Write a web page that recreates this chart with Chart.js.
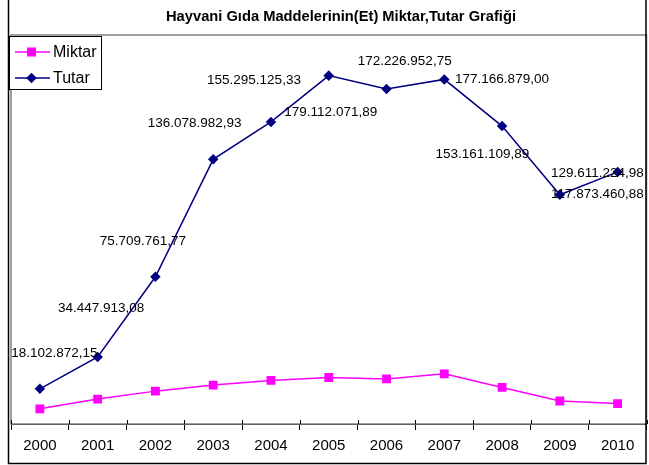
<!DOCTYPE html>
<html>
<head>
<meta charset="utf-8">
<script src="https://cdn.jsdelivr.net/npm/chart.js@4/dist/chart.umd.min.js"></script>
<style>
html,body{margin:0;padding:0;background:#fff;}
#wrap{width:649px;height:465px;position:relative;}
</style>
</head>
<body>
<div id="wrap"><canvas id="c" width="649" height="465"></canvas></div>
<script>
// ---- data ----
const chartTitle = 'Hayvani Gıda Maddelerinin(Et) Miktar,Tutar Grafiği';
const years = ['2000','2001','2002','2003','2004','2005','2006','2007','2008','2009','2010'];
const miktar = [7800000, 12800000, 16900000, 20000000, 22400000, 23900000, 23200000, 25800000, 18800000, 11800000, 10500000];
const tutar = [18102872.15, 34447913.08, 75709761.77, 136078982.93, 155295125.33, 179112071.89, 172226952.75, 177166879.00, 153161109.89, 117873460.88, 129611224.98];
// label placement relative to each Tutar point (dx, dy in px)
const tutarLabelOffsets = [[14.5,-36],[3.5,-49],[-12.6,-35.6],[-18.6,-36],[-17,-42],[2,36.6],[18.2,-27.3],[57.7,0],[-19.7,28.3],[37.5,0],[-20.2,1.7]];

function trFormat(v){
  const fixed = v.toFixed(2);
  const [intPart, dec] = fixed.split('.');
  const withDots = intPart.replace(/\B(?=(\d{3})+(?!\d))/g, '.');
  return withDots + ',' + dec;
}

const decor = {
  id: 'decor',
  beforeDraw(chart){
    const ctx = chart.ctx;
    ctx.save();
    ctx.fillStyle = '#fff';
    ctx.fillRect(0,0,chart.width,chart.height);
    ctx.restore();
  },
  afterDatasetsDraw(chart){
    const ctx = chart.ctx;
    const meta = chart.getDatasetMeta(1);
    ctx.save();
    ctx.font = '13.5px Arial, "Liberation Sans", sans-serif';
    ctx.fillStyle = '#000';
    ctx.textAlign = 'center';
    ctx.textBaseline = 'middle';
    meta.data.forEach((pt, i) => {
      const off = tutarLabelOffsets[i];
      ctx.fillText(trFormat(tutar[i]), pt.x + off[0], pt.y + off[1]);
    });
    ctx.restore();
  },
  afterDraw(chart){
    const ctx = chart.ctx;
    const a = chart.chartArea;
    ctx.save();
    // plot area border
    ctx.strokeStyle = '#808080';
    ctx.lineWidth = 1.5;
    ctx.strokeRect(a.left, a.top, a.right - a.left, a.bottom - a.top);
    // tick marks poke slightly above the axis
    const xs = chart.scales.x;
    ctx.strokeStyle = '#000';
    ctx.lineWidth = 1;
    for (let i = 0; i <= years.length; i++) {
      const px = Math.round(xs.getPixelForValue(i - 0.5)) + 0.5;
      ctx.beginPath();
      ctx.moveTo(px, a.bottom - 4);
      ctx.lineTo(px, a.bottom);
      ctx.stroke();
    }
    // outer border
    ctx.strokeStyle = '#000';
    ctx.lineWidth = 1.5;
    ctx.beginPath();
    ctx.moveTo(8.5, 0); ctx.lineTo(8.5, 463.5); ctx.lineTo(646, 463.5); ctx.lineTo(646, 0);
    ctx.stroke();
    // title
    ctx.fillStyle = '#000';
    ctx.font = 'bold 15px Arial, "Liberation Sans", sans-serif';
    ctx.textAlign = 'center';
    ctx.textBaseline = 'middle';
    ctx.fillText(chartTitle, 341, 17, 350);
    // legend
    const lx = 9.5, ly = 36.5, lw = 92, lh = 53;
    ctx.fillStyle = '#fff';
    ctx.fillRect(lx, ly, lw, lh);
    ctx.strokeStyle = '#000';
    ctx.lineWidth = 1;
    ctx.strokeRect(lx, ly, lw, lh);
    const rows = [52, 78];
    chart.data.datasets.forEach((ds, i) => {
      const y = rows[i];
      ctx.strokeStyle = ds.borderColor;
      ctx.lineWidth = 1.5;
      ctx.beginPath();
      ctx.moveTo(15, y); ctx.lineTo(50, y);
      ctx.stroke();
      Chart.helpers.drawPoint(ctx, {pointStyle: ds.pointStyle, radius: ds.pointRadius, borderWidth: 1}, 31.5, y);
      ctx.fillStyle = ds.borderColor;
      ctx.fill();
      ctx.fillStyle = '#000';
      ctx.font = '16px Arial, "Liberation Sans", sans-serif';
      ctx.textAlign = 'left';
      ctx.textBaseline = 'middle';
      ctx.fillText(ds.label, 53, y + 1);
    });
    ctx.restore();
  }
};

new Chart(document.getElementById('c'), {
  type: 'line',
  data: {
    labels: years,
    datasets: [
      { label: 'Miktar', data: miktar, borderColor: '#FF00FF', backgroundColor: '#FF00FF', pointBackgroundColor: '#FF00FF', pointBorderColor: '#FF00FF', pointStyle: 'rect', pointRadius: 5.2, borderWidth: 1.5, tension: 0 },
      { label: 'Tutar', data: tutar, borderColor: '#000080', backgroundColor: '#000080', pointBackgroundColor: '#000080', pointBorderColor: '#000080', pointStyle: 'rectRot', pointRadius: 4.2, borderWidth: 1.5, tension: 0 }
    ]
  },
  options: {
    responsive: false,
    animation: false,
    devicePixelRatio: 1,
    layout: { autoPadding: false, padding: { left: 11, right: 2.5, top: 35, bottom: 0 } },
    plugins: { legend: { display: false }, title: { display: false }, tooltip: { enabled: false } },
    scales: {
      x: {
        type: 'category',
        offset: true,
        afterFit(scale){ scale.height = 41; scale.paddingLeft = 0; scale.paddingRight = 0; },
        grid: { display: true, drawOnChartArea: false, drawTicks: true, tickLength: 6, color: '#000', offset: true, lineWidth: 1 },
        border: { display: true, color: '#000', width: 1 },
        ticks: { color: '#000', font: { family: 'Arial, "Liberation Sans", sans-serif', size: 15 }, padding: 7, maxRotation: 0, autoSkip: false }
      },
      y: { display: false, min: 0, max: 200000000 }
    }
  },
  plugins: [decor]
});
</script>
</body>
</html>
